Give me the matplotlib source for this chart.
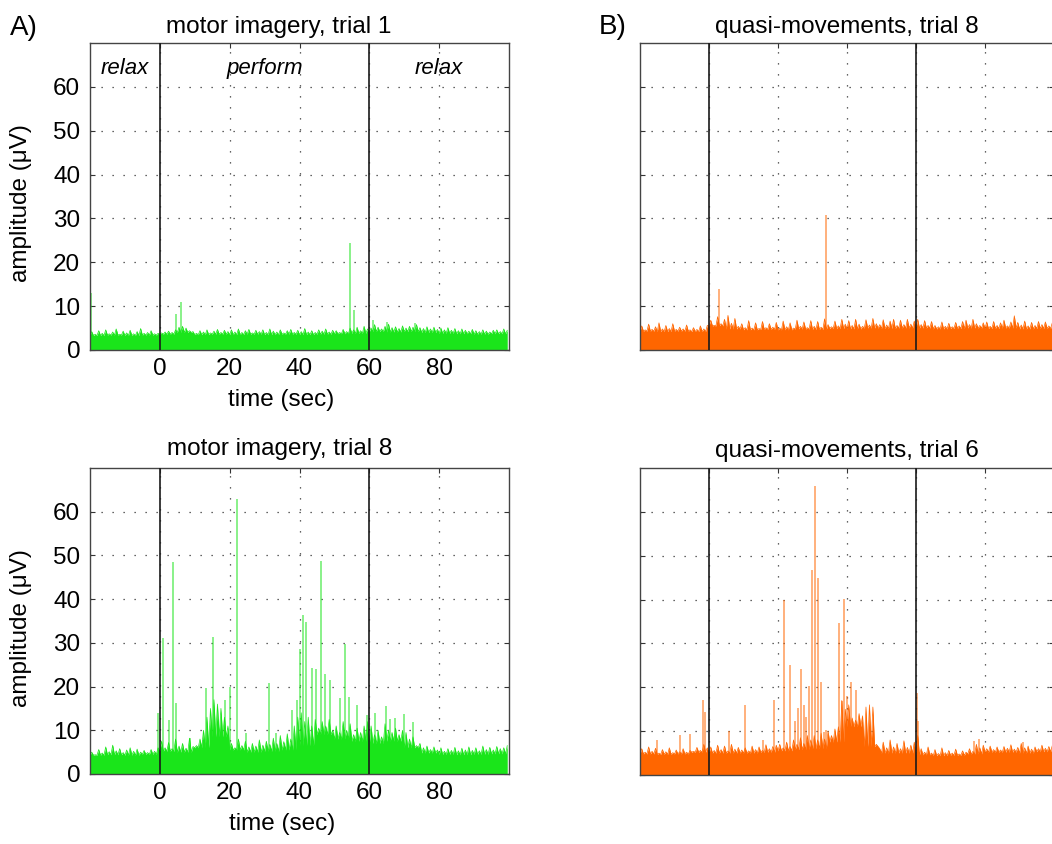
import numpy as np
import matplotlib
matplotlib.use('Agg')
import matplotlib.pyplot as plt

plt.rcParams['font.family'] = ['Liberation Sans', 'DejaVu Sans']

# time axis, 1 s steps
t = np.arange(-20, 100)

# rectified EMG:
#   *_peak  : top of the noise, one value per second (uV)
#   *_floor : solid lower level of the noise, one value per 5 s block
#   *_spike_t / *_spike_h : isolated spikes
mi1_peak = [4.2, 3.6, 4.4, 3.8, 4.6, 3.7, 4.1, 4.8, 3.6, 4.3, 3.9, 4.5, 3.7, 4.2, 4.9, 3.8, 4.0, 4.4, 3.7, 3.8,
            3.9, 4.1, 4.3, 4.0, 4.6, 5.2, 5.4, 5.0, 4.4, 4.2,
            3.8, 4.4, 4.1, 4.6, 3.9, 4.3, 4.7, 4.0, 4.5, 4.2,
            4.6, 4.1, 4.8, 4.0, 4.4, 4.7, 3.9, 4.5, 4.2, 4.6,
            4.0, 4.8, 4.3, 4.1, 4.6, 3.9, 4.4, 4.7, 4.0, 4.5,
            4.2, 4.9, 4.1, 4.4, 4.0, 4.6, 4.3, 4.8, 4.1, 4.5,
            4.4, 4.0, 4.7, 4.2, 5.0, 4.6, 5.2, 4.4, 5.4, 4.8,
            5.0, 5.8, 5.2, 4.8, 5.4, 5.9, 5.1, 5.3, 4.9, 5.5,
            5.0, 5.4, 5.2, 5.8, 5.1, 4.9, 5.3, 4.8, 5.2, 4.7,
            5.0, 4.6, 5.1, 4.5, 4.9, 4.4, 4.8, 4.5, 4.3, 4.7,
            4.4, 4.2, 4.6, 4.3, 4.1, 4.5, 4.6, 4.2, 4.8, 4.5]
mi1_floor = [3.3, 3.4, 3.3, 3.4,
             3.6, 4.0, 3.5, 3.6, 3.5, 3.6, 3.5, 3.6, 3.5, 3.6, 3.7, 3.8,
             4.2, 4.1, 4.2, 4.0,
             3.8, 3.7, 3.6, 3.7]
mi1_spike_t = [-19.6, 4.5, 6.1, 54.4, 55.6, 61.0, 65.0, 73.0]
mi1_spike_h = [13.0, 8.3, 10.9, 24.5, 9.1, 6.8, 6.3, 6.1]

qm8_peak = [5.5, 4.6, 5.9, 4.7, 5.3, 6.2, 4.8, 5.6, 4.9, 6.0, 4.7, 5.2, 4.8, 5.7, 4.6, 5.1, 4.7, 5.5, 4.8, 5.6,
            6.8, 5.6, 7.6, 6.0, 7.0, 7.9, 6.1, 7.2, 5.4, 6.0,
            5.1, 6.7, 5.0, 6.2, 4.9, 6.5, 5.1, 6.0, 5.2, 6.3,
            5.0, 6.6, 5.3, 6.2, 5.0, 6.8, 5.4, 6.4, 5.1, 6.7,
            5.4, 6.5, 5.2, 7.1, 5.8, 5.3, 6.6, 5.5, 7.0, 5.9,
            6.7, 5.6, 7.0, 5.9, 5.4, 6.9, 5.7, 7.2, 6.0, 5.8,
            6.9, 5.7, 6.6, 7.0, 5.6, 6.8, 5.8, 7.0, 5.9, 6.6,
            7.0, 5.8, 6.7, 5.6, 6.5, 5.6, 5.3, 6.4, 5.4, 6.1,
            5.3, 6.3, 5.5, 6.5, 6.8, 5.8, 7.0, 6.0, 5.6, 6.2,
            6.4, 5.4, 6.5, 5.6, 6.2, 6.8, 5.5, 6.4, 7.8, 6.3,
            5.7, 6.6, 5.5, 6.3, 5.6, 6.5, 5.8, 6.4, 5.5, 6.2]
qm8_floor = [4.3, 4.2, 4.3, 4.2,
             5.5, 4.8, 4.6, 4.7, 4.6, 4.8, 4.7, 4.9, 4.8, 5.0, 4.9, 5.0,
             5.0, 4.8, 4.9, 5.0,
             4.9, 5.0, 4.8, 4.9]
qm8_spike_t = [3.0, 33.8]
qm8_spike_h = [14.0, 30.8]

mi8_peak = [5.0, 4.4, 5.6, 4.8, 6.2, 5.1, 6.6, 5.3, 5.8, 4.9, 5.5, 6.0, 5.2, 5.7, 5.0, 5.4, 4.9, 5.6, 5.2, 6.0,
            7.5, 6.0, 7.2, 5.8, 8.0, 6.4, 7.0, 5.9, 8.2, 6.3,
            6.5, 8.0, 10.0, 13.0, 15.0, 17.0, 16.0, 15.0, 13.0, 11.0,
            7.0, 6.0, 8.0, 6.5, 7.5, 6.2, 7.0, 6.4, 7.8, 6.6,
            7.5, 6.8, 8.2, 7.0, 8.8, 7.4, 9.2, 8.0, 11.0, 13.0,
            14.0, 12.0, 13.0, 11.0, 12.5, 10.5, 12.0, 11.0, 12.5, 10.0,
            11.0, 9.5, 12.0, 10.0, 11.5, 9.0, 10.5, 9.5, 11.0, 12.0,
            11.0, 9.0, 10.0, 8.5, 11.5, 10.0, 9.5, 10.5, 9.0, 10.0,
            9.5, 8.0, 8.5, 6.5, 7.0, 6.0, 6.4, 5.6, 6.2, 5.5,
            6.0, 5.2, 5.8, 5.4, 6.1, 5.3, 5.9, 5.5, 6.2, 5.4,
            6.0, 5.3, 6.4, 5.6, 6.1, 5.5, 6.3, 5.8, 6.0, 6.5]
mi8_floor = [4.3, 4.4, 4.3, 4.5,
             5.2, 5.0, 6.0, 8.5, 5.5, 5.0, 5.2, 5.5, 6.5, 9.0, 8.0, 7.5,
             7.0, 7.5, 6.0, 4.8,
             4.5, 4.4, 4.5, 4.6]
mi8_spike_t = [-0.5, 0.8, 2.5, 3.9, 4.6, 8.6, 12.4, 13.2, 15.3, 18.7, 20.1, 22.2, 24.8, 31.2, 33.4,
               37.8, 39.2, 40.0, 41.0, 41.9, 43.6, 44.8, 46.2, 47.4, 48.6, 51.6, 53.1, 54.2, 56.4,
               59.3, 61.7, 64.8, 66.0, 67.4, 69.8, 72.4]
mi8_spike_h = [14.0, 31.0, 12.4, 48.6, 16.2, 8.2, 7.8, 19.6, 31.4, 17.0, 20.0, 63.0, 9.4, 20.8, 9.4,
               14.7, 17.0, 28.6, 36.4, 34.8, 24.2, 24.0, 48.8, 22.8, 21.5, 17.5, 29.7, 17.7, 15.7,
               13.4, 14.0, 15.6, 12.5, 12.8, 13.7, 11.8]

qm6_peak = [6.0, 5.2, 6.4, 5.4, 6.1, 5.0, 5.8, 5.3, 6.2, 5.1, 5.7, 5.3, 6.0, 5.2, 5.6, 5.4, 6.3, 5.6, 7.0, 6.2,
            6.4, 5.6, 6.8, 5.8, 6.6, 5.5, 7.0, 5.9, 6.3, 5.7,
            6.2, 5.5, 6.6, 5.8, 6.4, 5.6, 6.9, 6.0, 6.5, 6.8,
            7.0, 6.2, 7.5, 6.5, 8.0, 7.0, 8.5, 7.2, 9.0, 8.0,
            9.0, 8.0, 9.5, 8.2, 10.0, 9.0, 10.5, 11.0, 17.0, 15.0,
            16.0, 13.0, 12.5, 14.0, 13.5, 15.5, 16.0, 15.5, 7.0, 6.0,
            7.5, 6.2, 8.0, 6.4, 7.2, 6.0, 7.8, 6.3, 6.8, 7.5,
            9.0, 6.0, 5.2, 6.4, 5.0, 5.8, 4.9, 6.2, 5.1, 5.6,
            5.0, 5.9, 4.8, 5.5, 5.2, 6.0, 5.4, 7.0, 6.2, 6.8,
            6.0, 6.6, 5.8, 6.4, 5.7, 6.5, 6.1, 6.9, 5.9, 6.3,
            7.2, 6.2, 6.6, 5.9, 6.4, 6.0, 6.8, 6.1, 6.5, 6.7]
qm6_floor = [4.8, 4.7, 4.8, 5.2,
             5.0, 5.0, 5.0, 5.2, 5.5, 5.8, 6.0, 7.5, 11.0, 6.5, 5.0, 5.0,
             4.6, 4.4, 4.5, 4.8,
             5.2, 5.2, 5.0, 5.3]
qm6_spike_t = [-15.0, -8.5, -5.4, -1.6, -1.1, 5.8, 10.3, 15.6, 18.7, 21.8, 23.5, 24.9, 25.7, 26.7,
               27.4, 28.2, 29.1, 29.8, 30.6, 31.5, 32.4, 33.2, 34.0, 37.6, 38.5, 39.1, 40.1, 41.1,
               42.5, 60.2, 60.7, 76.8, 78.4, 90.9]
qm6_spike_h = [8.0, 9.1, 9.4, 17.1, 14.3, 10.0, 16.0, 7.9, 17.1, 39.8, 25.0, 12.2, 15.2, 24.1,
               16.0, 13.3, 20.2, 46.8, 65.9, 44.9, 21.3, 9.9, 10.3, 34.7, 16.8, 40.2, 17.9, 21.3,
               19.3, 18.8, 12.2, 7.8, 8.2, 7.5]

titles = ['motor imagery, trial 1', 'quasi-movements, trial 8',
          'motor imagery, trial 8', 'quasi-movements, trial 6']
green = '#1ae51a'
orange = '#ff6600'

fig = plt.figure(figsize=(10.52, 8.44), dpi=100)
W, H = 1052.0, 844.0
# (left, top, right, bottom) in pixels
boxes = [(90, 43, 509, 350), (640, 43, 1054, 350),
         (90, 468, 509, 774), (640, 468, 1054, 775)]
panels = [(mi1_peak, mi1_floor, mi1_spike_t, mi1_spike_h, green),
          (qm8_peak, qm8_floor, qm8_spike_t, qm8_spike_h, orange),
          (mi8_peak, mi8_floor, mi8_spike_t, mi8_spike_h, green),
          (qm6_peak, qm6_floor, qm6_spike_t, qm6_spike_h, orange)]
title_x = [0.451, 0.5, 0.453, 0.5]
title_pad = [7.2, 7.2, 9.2, 8.0]

for i, (box, (peak, floor, st, sh, col)) in enumerate(zip(boxes, panels)):
    l, tp, r, b = box
    ax = fig.add_axes([l / W, 1 - b / H, (r - l) / W, (b - tp) / H])

    # floor at whole seconds, noise tops half a second later
    floor_1s = np.repeat(floor, 5)
    tt = np.ravel(np.column_stack([t, t + 0.5]))
    yy = np.ravel(np.column_stack([floor_1s, peak]))
    ax.fill_between(tt, 0, yy, color=col, lw=0, zorder=2)
    ax.plot(tt, yy, color=col, lw=0.5, zorder=2)
    ax.vlines(st, 0, sh, color=col, lw=1.1, alpha=0.65, zorder=2)
    ax.axvline(0, color='#1a1a1a', lw=1.2, zorder=4)
    ax.axvline(60, color='#1a1a1a', lw=1.2, zorder=4)

    ax.set_xlim(-20, 100)
    ax.set_ylim(0, 70)
    ax.set_xticks([0, 20, 40, 60, 80])
    ax.set_yticks(np.arange(0, 61, 10))
    ax.set_axisbelow(True)
    ax.grid(True, color='#333333', lw=0.9, linestyle=(0, (1, 7.8)))
    ax.tick_params(direction='in', length=3.5, width=0.8, top=True, right=True,
                   labelsize=17.5, color='#333333')
    ax.tick_params(axis='x', pad=6)
    ax.tick_params(axis='y', pad=7)
    for s in ax.spines.values():
        s.set_color('#444444')
        s.set_linewidth(1.0)

    ax.set_title(titles[i], x=title_x[i], pad=title_pad[i], fontsize=17.5)

    if i % 2 == 0:
        ax.set_xlabel('time (sec)', fontsize=17.5, va='top')
        ax.xaxis.set_label_coords(title_x[i] + 0.005, -0.128)
        ax.set_ylabel('amplitude (\u03bcV)', fontsize=17.5)
        ax.yaxis.set_label_coords(-0.138, 0.478)
    else:
        ax.set_xticklabels([])
        ax.set_yticklabels([])

    if i == 0:
        ax.text(-10, 63, 'relax', style='italic', fontsize=16, ha='center', va='baseline')
        ax.text(30, 63, 'perform', style='italic', fontsize=16, ha='center', va='baseline')
        ax.text(80, 63, 'relax', style='italic', fontsize=16, ha='center', va='baseline')

fig.text(10 / W, 1 - 35 / H, 'A)', fontsize=20, va='baseline')
fig.text(599 / W, 1 - 34 / H, 'B)', fontsize=20, va='baseline')

fig.savefig('out.png', dpi=100)
